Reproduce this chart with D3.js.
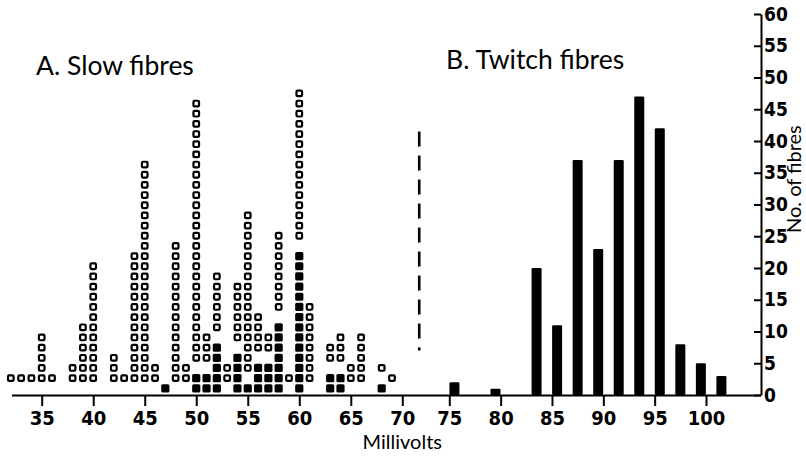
<!DOCTYPE html>
<html>
<head>
<meta charset="utf-8">
<script src="https://cdn.jsdelivr.net/npm/d3@7"></script>
<style>
  html, body { margin: 0; padding: 0; background: #fff; }
  svg { display: block; }
  .title { font-family: Lato, "Open Sans", sans-serif; font-size: 26.5px; fill: #000; }
  .axis-label { font-family: Lato, "Open Sans", sans-serif; font-size: 20px; fill: #000; }
  .tick text { font-family: "Liberation Sans Narrow", "DejaVu Sans Condensed", Lato, sans-serif; font-size: 20px; font-weight: bold; fill: #000; }
  .y-axis .tick text { font-size: 19px; }
</style>
</head>
<body>
<svg id="chart" width="806" height="456"></svg>
<script>
// A. Slow fibres: one square per fibre, stacked in 1 mV columns
const slowMv     = [32,33,34,35,36,38,39,40,42,43,44,45,46,47,48,49,50,51,52,53,54,55,56,57,58,59,60,61,63,64,65,66,68,69];
const slowOpen   = [1,1,1,5,1,2,6,12,3,1,13,22,2,0,14,2,26,3,6,2,6,16,4,2,8,1,15,8,2,3,2,5,1,1];
const slowFilled = [0,0,0,0,0,0,0,0,0,0,0,0,0,1,0,0,2,2,5,0,4,1,3,3,7,0,14,0,2,2,0,0,1,0];

// B. Twitch fibres: histogram in 2 mV bins (bin centres)
const twitchMv    = [75.5,79.5,83.5,85.5,87.5,89.5,91.5,93.5,95.5,97.5,99.5,101.5];
const twitchCount = [2,1,20,11,37,23,37,47,42,8,5,3];

// Axis ticks
const mvTicks    = [35,40,45,50,55,60,65,70,75,80,85,90,95,100];
const countTicks = [0,5,10,15,20,25,30,35,40,45,50,55,60];

// Boundary between the two populations (mV) and its vertical extent (no. of fibres)
const dividerMv    = 71.8;
const dividerRange = [7, 41.5];

// Layout
const baseY = 395;          // x-axis baseline
const axisLeftX = 12;       // left end of baseline
const axisRightX = 761;     // position of the count axis
const rowPitch = 10.17;     // vertical spacing of stacked squares

const svg = d3.select("#chart");

const x = d3.scaleLinear()
  .domain([35, 70, 75, 100])
  .range([41.7, 402.3, 449.3, 706]);

const y = d3.scaleLinear().domain([0, 60]).range([baseY, 14]);

// row index -> centre of a stacked square
const row = d3.scaleLinear().domain([0, 1]).range([388.3, 388.3 - rowPitch]);

// ---- squares for slow fibres ----
const filledCells = [], openCells = [];
slowMv.forEach((mv, i) => {
  const f = slowFilled[i];
  for (let k = 0; k < f; k++) filledCells.push({ mv, r: k });
  const start = f + 1;               // one empty row separates the two kinds
  for (let k = 0; k < slowOpen[i]; k++) openCells.push({ mv, r: start + k });
});

const openSize = 5.6, openStroke = 2.2, fillSize = 8.2;
svg.append("g").selectAll("rect").data(openCells).join("rect")
  .attr("x", d => x(d.mv) - openSize / 2)
  .attr("y", d => row(d.r) - openSize / 2)
  .attr("width", openSize).attr("height", openSize)
  .attr("rx", 1.2)
  .attr("fill", "#fff").attr("stroke", "#000").attr("stroke-width", openStroke);

svg.append("g").selectAll("rect").data(filledCells).join("rect")
  .attr("x", d => x(d.mv) - fillSize / 2)
  .attr("y", d => row(d.r) - fillSize / 2)
  .attr("width", fillSize).attr("height", fillSize)
  .attr("rx", 1.5)
  .attr("fill", "#000");

// ---- twitch fibre bars ----
const barW = 10;
svg.append("g").selectAll("rect").data(twitchMv.map((mv, i) => ({ mv, n: twitchCount[i] })))
  .join("rect")
  .attr("x", d => x(d.mv) - barW / 2)
  .attr("y", d => y(d.n))
  .attr("width", barW)
  .attr("height", d => y(0) - y(d.n))
  .attr("rx", 1.2)
  .attr("fill", "#000");

// ---- dashed divider ----
svg.append("line")
  .attr("x1", x(dividerMv)).attr("x2", x(dividerMv))
  .attr("y1", y(dividerRange[1])).attr("y2", y(dividerRange[0]))
  .attr("stroke", "#000").attr("stroke-width", 2.6)
  .attr("stroke-dasharray", "15,9");

// ---- x axis ----
svg.append("line")
  .attr("x1", axisLeftX).attr("x2", axisRightX)
  .attr("y1", baseY + 0.5).attr("y2", baseY + 0.5)
  .attr("stroke", "#000").attr("stroke-width", 2);

const gx = svg.append("g")
  .attr("transform", `translate(0,${baseY})`)
  .call(d3.axisBottom(x).tickValues(mvTicks).tickSize(11).tickPadding(5).tickFormat(d3.format("d")));
gx.select(".domain").remove();
gx.selectAll(".tick line").attr("stroke", "#000").attr("stroke-width", 2);

// ---- count axis on the right ----
const gy = svg.append("g")
  .attr("class", "y-axis")
  .attr("transform", `translate(${axisRightX},0)`)
  .call(d3.axisRight(y).tickValues(countTicks).tickSizeInner(-7).tickSizeOuter(0).tickPadding(3).tickFormat(d3.format("d")));
gy.select(".domain").attr("stroke", "#000").attr("stroke-width", 2);
gy.selectAll(".tick line").attr("stroke", "#000").attr("stroke-width", 2);

// ---- titles and axis labels ----
svg.append("text").attr("class", "title").attr("x", 36).attr("y", 75).text("A. Slow fibres");
svg.append("text").attr("class", "title").attr("x", 446).attr("y", 69).text("B. Twitch fibres");

svg.append("text").attr("class", "axis-label")
  .attr("x", x(70)).attr("y", 449).attr("text-anchor", "middle").text("Millivolts");

svg.append("text").attr("class", "axis-label")
  .attr("transform", `translate(801,${y(34)}) rotate(-90)`)
  .attr("text-anchor", "middle").text("No. of fibres");
</script>
</body>
</html>
